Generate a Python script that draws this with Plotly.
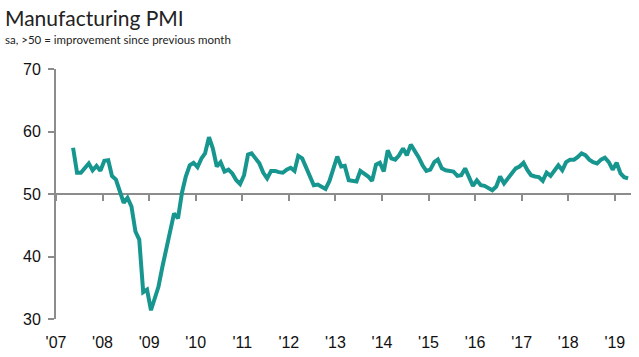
import pandas as pd
import plotly.graph_objects as go

# Monthly PMI readings, May 2007 .. Apr 2019
start_month = "2007-05"
pmi = [
    57.4, 53.4, 53.4, 54.2, 54.9, 53.8, 54.5, 53.7,              # 2007 May-Dec
    55.3, 55.4, 52.9, 52.3, 50.6, 48.6, 49.4, 48.0, 44.0, 42.7, 34.3, 34.7,  # 2008
    31.4, 33.6, 35.2, 38.4, 41.4, 44.3, 46.9, 46.1, 50.2, 52.8, 54.6, 55.0,  # 2009
    54.3, 55.7, 56.5, 59.1, 57.3, 54.4, 55.1, 53.6, 53.9, 53.3, 52.2, 51.6,  # 2010
    53.0, 56.3, 56.5, 55.7, 54.9, 53.4, 52.5, 53.7, 53.7, 53.5, 53.4, 53.9,  # 2011
    54.2, 53.7, 56.1, 55.7, 54.4, 53.0, 51.4, 51.5, 51.2, 50.8, 52.1, 53.8,  # 2012
    56.0, 54.4, 54.5, 52.2, 52.1, 52.0, 53.7, 53.3, 52.8, 52.1, 54.7, 55.0,  # 2013
    53.6, 57.0, 55.7, 55.5, 56.2, 57.3, 56.2, 57.9, 57.0, 55.9, 54.6, 53.7,  # 2014
    53.9, 55.1, 55.5, 54.1, 53.8, 53.7, 53.6, 52.9, 53.0, 54.1, 52.5, 51.3,  # 2015
    52.2, 51.4, 51.3, 50.9, 50.6, 51.2, 52.8, 51.7, 52.5, 53.4, 54.1, 54.4,  # 2016
    55.0, 53.8, 53.0, 52.8, 52.7, 52.1, 53.4, 52.9, 53.7, 54.6, 53.8, 55.1,  # 2017
    55.5, 55.5, 55.9, 56.5, 56.2, 55.5, 55.1, 54.9, 55.5, 55.8, 55.1, 53.9,  # 2018
    55.0, 53.3, 52.7, 52.5,                                      # 2019 Jan-Apr
]
years = list(range(2007, 2020))
year_labels = ["'07", "'08", "'09", "'10", "'11", "'12", "'13", "'14", "'15", "'16", "'17", "'18", "'19"]
y_ticks = [30, 40, 50, 60, 70]

dates = pd.date_range(start_month + "-01", periods=len(pmi), freq="MS") + pd.Timedelta(days=14)
year_starts = [f"{y}-01-01" for y in years]
x_range = ["2007-01-01", "2019-05-08"]

TEAL = "#17968f"
GREY = "#8c8c8c"

fig = go.Figure()
fig.add_trace(go.Scatter(
    x=dates, y=pmi, mode="lines",
    line=dict(color=TEAL, width=4),
    hoverinfo="skip", showlegend=False,
))
# invisible trace on the secondary x axis so it is rendered
fig.add_trace(go.Scatter(x=[dates[0]], y=[50], xaxis="x2", mode="markers",
                         marker=dict(opacity=0), hoverinfo="skip", showlegend=False))

fig.update_layout(
    width=639, height=357,
    margin=dict(l=56, r=8, t=69, b=38, autoexpand=False),
    paper_bgcolor="white", plot_bgcolor="white",
    font=dict(family="Liberation Sans, Arial, sans-serif", color="#111111"),
    xaxis=dict(
        type="date", range=x_range, automargin=False,
        tickvals=year_starts, ticktext=year_labels,
        showline=False, ticks="", showgrid=False, zeroline=False,
        tickfont=dict(size=16, color="#111111"),
        ticklabelstandoff=12,
    ),
    xaxis2=dict(
        type="date", range=x_range, overlaying="x", anchor="free", position=0.5,
        side="bottom", automargin=False,
        tickvals=year_starts, showticklabels=False,
        showline=True, linecolor=GREY, linewidth=2,
        ticks="outside", ticklen=6, tickwidth=2, tickcolor=GREY,
        showgrid=False, zeroline=False, layer="below traces",
    ),
    yaxis=dict(
        range=[30, 70], tickvals=y_ticks, automargin=False,
        showline=True, linecolor=GREY, linewidth=2,
        ticks="outside", ticklen=6, tickwidth=2, tickcolor=GREY,
        showgrid=False, zeroline=False,
        tickfont=dict(size=16, color="#111111"),
        ticklabelstandoff=4,
    ),
    annotations=[
        dict(text="Manufacturing PMI", xref="paper", yref="paper",
             x=-53/575, y=1 + (69 - 3) / 250, xanchor="left", yanchor="top",
             showarrow=False, font=dict(family="Lato, sans-serif", size=21, color="#222222")),
        dict(text="sa, >50 = improvement since previous month", xref="paper", yref="paper",
             x=-53/575, y=1 + (69 - 31) / 250, xanchor="left", yanchor="top",
             showarrow=False, font=dict(family="Lato, sans-serif", size=11.5, color="#222222")),
    ],
)

fig.write_html("out.html", config={"displayModeBar": False},
               post_script="document.body.style.margin='0';")
